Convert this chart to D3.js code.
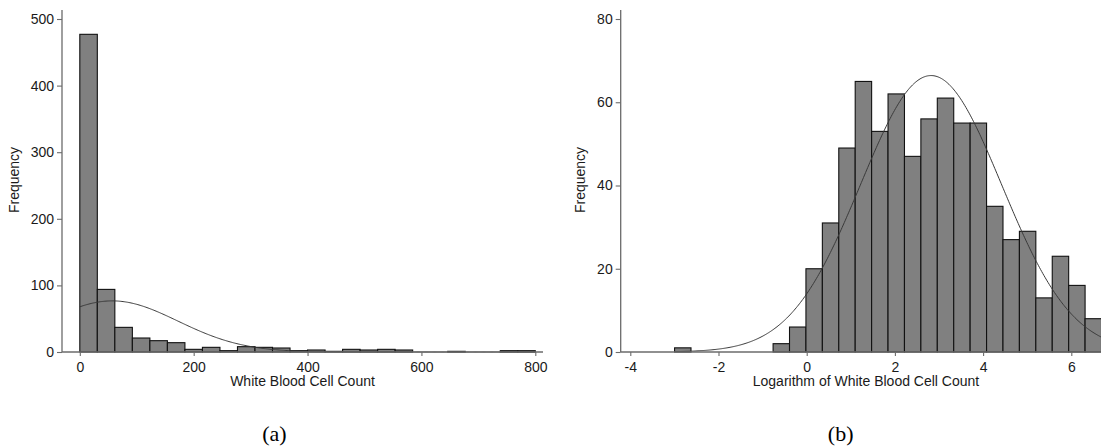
<!DOCTYPE html>
<html>
<head>
<meta charset="utf-8">
<script src="https://cdn.jsdelivr.net/npm/d3@7"></script>
<style>
  html, body { margin: 0; padding: 0; background: #fff; }
  svg { display: block; }
</style>
</head>
<body>
<svg id="chart" width="1101" height="447"></svg>
<script>
// ---- Data ----
// Panel (a): 26 equal bins of White Blood Cell Count from 0 to 800
const countBinStart = 0;
const countBinEnd = 800;
const countFreq = [477, 94, 37, 21, 17, 14, 4, 7, 2, 8, 7, 6, 2, 3, 1, 4, 3, 4, 3, 0, 0, 1, 0, 0, 2, 2];
const countTicksX = [0, 200, 400, 600, 800];
const countTicksY = [0, 100, 200, 300, 400, 500];
// normal fit overlay parameters (a)
const countMean = 57, countSd = 115;

// Panel (b): 26 equal bins of log(WBC) from ln(0.05) to ln(800)
const logBinStart = -2.996;
const logBinEnd = 6.685;
const logFreq = [1, 0, 0, 0, 0, 0, 2, 6, 20, 31, 49, 65, 53, 62, 47, 56, 61, 55, 55, 35, 27, 29, 13, 23, 16, 8];
const logTicksX = [-4, -2, 0, 2, 4, 6];
const logTicksY = [0, 20, 40, 60, 80];
// normal fit overlay parameters (b)
const logMean = 2.82, logSd = 1.597;

const xTitles = ["White Blood Cell Count", "Logarithm of White Blood Cell Count"];
const yTitle = "Frequency";
const panelLabels = ["(a)", "(b)"];

// ---- Drawing ----
const svg = d3.select("#chart");
const AXIS = "#6b6b6b";
const FONT = "'Liberation Sans', Arial, Helvetica, sans-serif";
const fmt = d => String(d);

function panel(cfg) {
  const g = svg.append("g");
  const x = d3.scaleLinear().domain(cfg.xDomain).range(cfg.xRange);
  const y = d3.scaleLinear().domain(cfg.yDomain).range([352, 19]);
  const n = cfg.freq.length;
  const w = (cfg.binEnd - cfg.binStart) / n;
  const bins = cfg.freq.map((f, i) => ({ x0: cfg.binStart + i * w, x1: cfg.binStart + (i + 1) * w, f }));

  // bars
  g.selectAll("rect.bar").data(bins.filter(d => d.f > 0)).join("rect")
    .attr("class", "bar")
    .attr("x", d => x(d.x0))
    .attr("width", d => x(d.x1) - x(d.x0))
    .attr("y", d => y(d.f))
    .attr("height", d => y(0) - y(d.f))
    .attr("fill", "#808080")
    .attr("stroke", "#111")
    .attr("stroke-width", 1.1);

  // normal curve scaled to counts
  const N = d3.sum(cfg.freq);
  const pdf = v => N * w * Math.exp(-0.5 * ((v - cfg.mean) / cfg.sd) ** 2) / (cfg.sd * Math.sqrt(2 * Math.PI));
  const pts = d3.range(0, 401).map(i => cfg.curveFrom + (cfg.curveTo - cfg.curveFrom) * i / 400);
  g.append("path")
    .datum(pts)
    .attr("fill", "none")
    .attr("stroke", "#3a3a3a")
    .attr("stroke-width", 1)
    .attr("d", d3.line().x(v => x(v)).y(v => y(pdf(v))));

  // x axis
  const xAxis = g.append("g").attr("transform", "translate(0,352)")
    .call(d3.axisBottom(x).tickValues(cfg.xTicks).tickFormat(fmt).tickSize(4).tickPadding(6).tickSizeOuter(0));
  xAxis.select(".domain").remove();
  g.append("line")
    .attr("x1", cfg.yAxisX).attr("x2", cfg.xAxisEnd)
    .attr("y1", 352).attr("y2", 352)
    .attr("stroke", AXIS).attr("stroke-width", 1.3);

  // y axis
  const yAxis = g.append("g").attr("transform", `translate(${cfg.yAxisX},0)`)
    .call(d3.axisLeft(y).tickValues(cfg.yTicks).tickFormat(fmt).tickSize(5).tickPadding(3).tickSizeOuter(0));
  yAxis.select(".domain").remove();
  g.append("line")
    .attr("x1", cfg.yAxisX).attr("x2", cfg.yAxisX)
    .attr("y1", 10).attr("y2", 352)
    .attr("stroke", AXIS).attr("stroke-width", 1.3);

  [xAxis, yAxis].forEach(a => {
    a.selectAll(".tick line").attr("stroke", AXIS).attr("stroke-width", 1.1);
    a.selectAll(".tick text").attr("fill", "#1a1a1a").style("font-family", FONT).style("font-size", "14px");
  });

  // titles
  g.append("text")
    .attr("x", cfg.xTitleX).attr("y", 386)
    .attr("text-anchor", "middle")
    .style("font-family", FONT).style("font-size", "14px").attr("fill", "#1a1a1a")
    .text(cfg.xTitle);
  g.append("text")
    .attr("transform", `translate(${cfg.yTitleX},180) rotate(-90)`)
    .attr("text-anchor", "middle")
    .style("font-family", FONT).style("font-size", "14px").attr("fill", "#1a1a1a")
    .text(yTitle);
  g.append("text")
    .attr("x", cfg.labelX).attr("y", 441)
    .attr("text-anchor", "middle")
    .style("font-family", "'Liberation Serif', 'Times New Roman', serif").style("font-size", "22px").attr("fill", "#000")
    .text(cfg.label);
}

panel({
  xDomain: [0, 800], xRange: [79.8, 535.3],
  yDomain: [0, 500],
  freq: countFreq, binStart: countBinStart, binEnd: countBinEnd,
  mean: countMean, sd: countSd, curveFrom: countBinStart, curveTo: countBinEnd,
  xTicks: countTicksX, yTicks: countTicksY,
  yAxisX: 62, xAxisEnd: 543,
  xTitle: xTitles[0], xTitleX: 302.5, yTitleX: 19,
  label: panelLabels[0], labelX: 274.5
});

panel({
  xDomain: [0, 6], xRange: [806.7, 1071.3],
  yDomain: [0, 80],
  freq: logFreq, binStart: logBinStart, binEnd: logBinEnd,
  mean: logMean, sd: logSd, curveFrom: logBinStart, curveTo: logBinEnd,
  xTicks: logTicksX, yTicks: logTicksY,
  yAxisX: 620.7, xAxisEnd: 1110,
  xTitle: xTitles[1], xTitleX: 866, yTitleX: 585,
  label: panelLabels[1], labelX: 840.7
});
</script>
</body>
</html>
